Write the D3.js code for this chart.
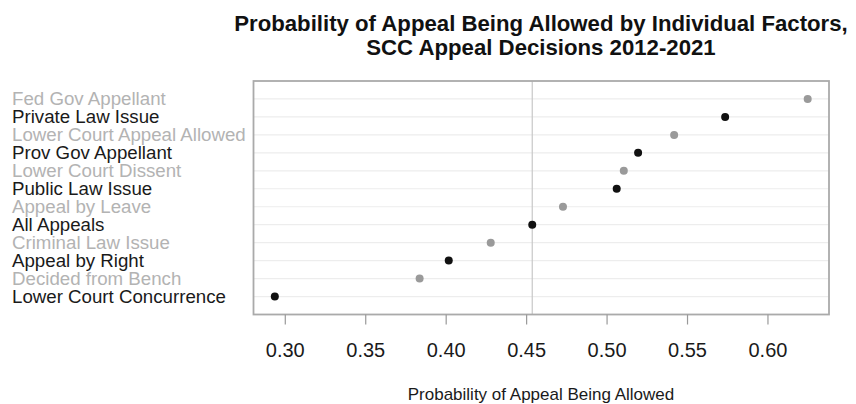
<!DOCTYPE html>
<html>
<head>
<meta charset="utf-8">
<script src="https://cdn.jsdelivr.net/npm/d3@7"></script>
<style>
  body { margin: 0; background: #fff; }
  svg { font-family: "Liberation Sans", Arial, sans-serif; }
</style>
</head>
<body>
<div id="chart"></div>
<script>
// factors, top to bottom
var factors = ["Fed Gov Appellant", "Private Law Issue", "Lower Court Appeal Allowed",
  "Prov Gov Appellant", "Lower Court Dissent", "Public Law Issue", "Appeal by Leave",
  "All Appeals", "Criminal Law Issue", "Appeal by Right", "Decided from Bench",
  "Lower Court Concurrence"];
var probs = [0.625, 0.5737, 0.542, 0.5196, 0.5107, 0.5063, 0.4729,
  0.4538, 0.428, 0.4019, 0.3838, 0.2938];
var allAppeals = 0.4538;
var xTicks = [0.30, 0.35, 0.40, 0.45, 0.50, 0.55, 0.60];

var width = 856, height = 404;
var plotL = 253.5, plotR = 829, plotT = 81, plotB = 314.5;

var svg = d3.select("#chart").append("svg")
    .attr("width", width)
    .attr("height", height);

// R style 4% padding on the range
var ext = d3.extent(probs),
    pad = (ext[1] - ext[0]) * 0.04;
var x = d3.scaleLinear().domain([ext[0] - pad, ext[1] + pad]).range([plotL, plotR]);
var y = d3.scalePoint().domain(factors).range([plotT, plotB]).padding(1);

// title
svg.append("text")
    .attr("x", 541).attr("y", 31)
    .attr("text-anchor", "middle")
    .style("font-weight", "bold").style("font-size", "22.2px").attr("fill", "#111")
    .text("Probability of Appeal Being Allowed by Individual Factors,");
svg.append("text")
    .attr("x", 541).attr("y", 55)
    .attr("text-anchor", "middle")
    .style("font-weight", "bold").style("font-size", "22.2px").attr("fill", "#111")
    .text("SCC Appeal Decisions 2012-2021");

// row lines
svg.selectAll(".row")
    .data(factors)
    .enter().append("line")
    .attr("x1", plotL).attr("x2", plotR)
    .attr("y1", function(d) { return y(d); })
    .attr("y2", function(d) { return y(d); })
    .attr("stroke", "#ededed").attr("stroke-width", 1.2);

// reference line at all appeals
svg.append("line")
    .attr("x1", x(allAppeals)).attr("x2", x(allAppeals))
    .attr("y1", plotT).attr("y2", plotB)
    .attr("stroke", "#c8c8c8").attr("stroke-width", 1.2);

// dots
svg.selectAll(".dot")
    .data(factors)
    .enter().append("circle")
    .attr("cx", function(d, i) { return x(probs[i]); })
    .attr("cy", function(d) { return y(d); })
    .attr("r", 4)
    .attr("fill", function(d, i) { return i % 2 ? "#111" : "#9a9a9a"; });

// labels
svg.selectAll(".lab")
    .data(factors)
    .enter().append("text")
    .attr("x", 12)
    .attr("y", function(d) { return y(d) + 6.5; })
    .style("font-size", "18.7px")
    .attr("fill", function(d, i) { return i % 2 ? "#1a1a1a" : "#b3b3b3"; })
    .text(function(d) { return d; });

// box
svg.append("rect")
    .attr("x", plotL).attr("y", plotT)
    .attr("width", plotR - plotL).attr("height", plotB - plotT)
    .attr("fill", "none").attr("stroke", "#aaaaaa").attr("stroke-width", 1.8);

// x axis
var xAxis = svg.append("g")
    .attr("transform", "translate(0," + plotB + ")")
    .call(d3.axisBottom(x).tickValues(xTicks).tickFormat(d3.format(".2f"))
      .tickSize(10).tickPadding(18));
xAxis.select(".domain").remove();
xAxis.selectAll(".tick line").attr("stroke", "#999").attr("stroke-width", 1.2);
xAxis.selectAll(".tick text")
    .style("font-size", "20px")
    .style("font-family", "'Liberation Sans', Arial, sans-serif")
    .attr("fill", "#1a1a1a");

svg.append("text")
    .attr("x", 541).attr("y", 400)
    .attr("text-anchor", "middle")
    .style("font-size", "17px").attr("fill", "#1a1a1a")
    .text("Probability of Appeal Being Allowed");
</script>
</body>
</html>
